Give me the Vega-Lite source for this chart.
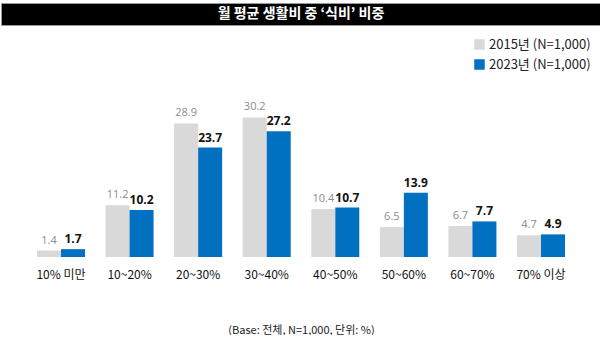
{
  "$schema": "https://vega.github.io/schema/vega-lite/v6.json",
  "padding": {"left": 0, "right": 0, "top": 2, "bottom": 0},
  "spacing": 0,
  "background": "white",
  "config": {"font": "Noto Sans CJK KR", "view": {"stroke": null}, "concat": {"spacing": 0}},
  "data": {"values": [
    {"cat": "10% 미만", "year": "2015년 (N=1,000)", "value": 1.4},
    {"cat": "10% 미만", "year": "2023년 (N=1,000)", "value": 1.7},
    {"cat": "10~20%", "year": "2015년 (N=1,000)", "value": 11.2},
    {"cat": "10~20%", "year": "2023년 (N=1,000)", "value": 10.2},
    {"cat": "20~30%", "year": "2015년 (N=1,000)", "value": 28.9},
    {"cat": "20~30%", "year": "2023년 (N=1,000)", "value": 23.7},
    {"cat": "30~40%", "year": "2015년 (N=1,000)", "value": 30.2},
    {"cat": "30~40%", "year": "2023년 (N=1,000)", "value": 27.2},
    {"cat": "40~50%", "year": "2015년 (N=1,000)", "value": 10.4},
    {"cat": "40~50%", "year": "2023년 (N=1,000)", "value": 10.7},
    {"cat": "50~60%", "year": "2015년 (N=1,000)", "value": 6.5},
    {"cat": "50~60%", "year": "2023년 (N=1,000)", "value": 13.9},
    {"cat": "60~70%", "year": "2015년 (N=1,000)", "value": 6.7},
    {"cat": "60~70%", "year": "2023년 (N=1,000)", "value": 7.7},
    {"cat": "70% 이상", "year": "2015년 (N=1,000)", "value": 4.7},
    {"cat": "70% 이상", "year": "2023년 (N=1,000)", "value": 4.9}
  ]},
  "vconcat": [
    {
      "width": 600,
      "height": 22,
      "view": {"fill": "black", "stroke": "#999999", "strokeWidth": 1},
      "data": {"values": [{"t": "월 평균 생활비 중 ‘식비’ 비중"}]},
      "mark": {"type": "text", "color": "white", "fontSize": 14, "fontWeight": "bold", "baseline": "middle", "align": "center"},
      "encoding": {"text": {"field": "t"}}
    },
    {
      "width": 600,
      "height": 231,
      "encoding": {
        "x": {
          "field": "cat", "type": "nominal", "sort": null,
          "scale": {"paddingInner": 0.3, "paddingOuter": 0.525},
          "axis": {
            "title": "(Base: 전체, N=1,000, 단위: %)",
            "labelAngle": 0, "domain": false, "ticks": false,
            "labelPadding": 12, "labelFontSize": 12, "labelColor": "#111111",
            "titleFontSize": 11, "titleFontWeight": "normal", "titleColor": "#222222",
            "titlePadding": 44
          }
        },
        "xOffset": {"field": "year", "sort": null},
        "y": {"field": "value", "type": "quantitative", "scale": {"domain": [0, 50]}, "axis": null}
      },
      "layer": [
        {
          "mark": {"type": "bar"},
          "encoding": {
            "color": {
              "field": "year", "type": "nominal",
              "scale": {"range": ["#d9d9d9", "#0070c0"]},
              "legend": {
                "title": null, "orient": "none", "legendX": 472, "legendY": 35,
                "symbolType": "square", "symbolSize": 110, "symbolStrokeWidth": 0,
                "labelFontSize": 13, "labelColor": "#222222", "rowPadding": 6, "labelOffset": 3
              }
            }
          }
        },
        {
          "transform": [{"filter": "datum.year == '2015년 (N=1,000)'"}],
          "mark": {"type": "text", "dy": -10, "color": "#8c8c8c", "fontSize": 11, "font": "Open Sans"},
          "encoding": {"text": {"field": "value", "format": ".1f"}}
        },
        {
          "transform": [{"filter": "datum.year == '2023년 (N=1,000)'"}],
          "mark": {"type": "text", "dy": -10, "color": "#111111", "fontSize": 12, "fontWeight": "bold", "font": "Open Sans"},
          "encoding": {"text": {"field": "value", "format": ".1f"}}
        }
      ]
    }
  ]
}
